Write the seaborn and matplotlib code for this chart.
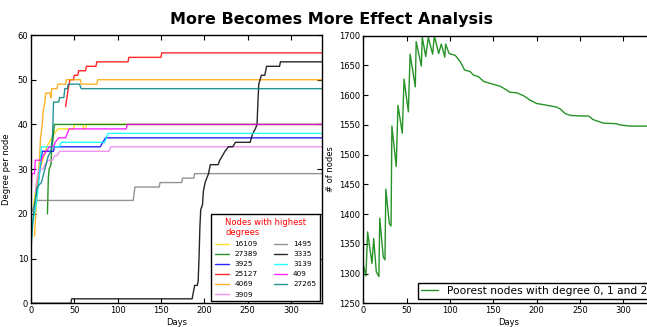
import matplotlib
matplotlib.use("Agg")
import matplotlib.pyplot as plt
import seaborn as sns
import pandas as pd

sns.set_theme(style="ticks")
plt.rcParams["font.family"] = ["DejaVu Sans"]
plt.rcParams["text.color"] = "black"
plt.rcParams["axes.labelcolor"] = "black"

# ---- Left panel: degree of the highest-degree nodes over time ----
node_names = ["16109", "27389", "3925", "25127", "4069", "3909",
              "1495", "3335", "3139", "409", "27265"]
node_colors = ["gold", "green", "blue", "red", "orange", "violet",
               "gray", "black", "cyan", "magenta", "teal"]

days_16109 = [3, 6, 9, 12, 15, 18, 21, 24, 27, 31, 49, 50, 60, 61, 63, 64, 336]
deg_16109 = [22, 26, 29, 31, 33, 35, 36, 37, 38, 39, 39, 40, 40, 39, 39, 40, 40]

days_27389 = [19, 20, 21, 23, 24, 25, 26, 27, 336]
deg_27389 = [20, 28, 30, 31, 35, 36, 38, 40, 40]

days_3925 = [6, 9, 11, 13, 26, 27, 80, 83, 86, 336]
deg_3925 = [24, 28, 31, 34, 34, 35, 35, 36, 37, 37]

days_25127 = [40, 43, 45, 49, 50, 54, 55, 63, 64, 75, 76, 112, 113, 150, 151, 336]
deg_25127 = [44, 48, 50, 50, 51, 51, 52, 52, 53, 53, 54, 54, 55, 55, 56, 56]

days_4069 = [4, 6, 8, 10, 11, 13, 14, 16, 17, 22, 23, 24, 30, 31, 40, 41,
             57, 58, 76, 77, 336]
deg_4069 = [15, 22, 27, 33, 37, 40, 43, 45, 47, 47, 46, 48, 48, 49, 49, 50,
            50, 49, 49, 50, 50]

days_3909 = [5, 7, 9, 14, 16, 20, 25, 27, 30, 33, 90, 92, 336]
deg_3909 = [25, 28, 30, 30, 31, 32, 32, 33, 33, 34, 34, 35, 35]

days_1495 = [0, 2, 4, 6, 118, 120, 148, 149, 174, 175, 188, 189, 336]
deg_1495 = [20, 21, 22, 23, 23, 26, 26, 27, 27, 28, 28, 29, 29]

days_3335 = [0, 46, 47, 186, 188, 189, 192, 193, 194, 195, 196, 198, 199, 201,
             203, 205, 207, 216, 218, 221, 224, 228, 233, 236, 253, 256, 259,
             261, 262, 263, 266, 270, 272, 287, 288, 336]
deg_3335 = [0, 0, 1, 1, 3, 4, 4, 5, 10, 17, 21, 22, 25, 27,
            28, 29, 31, 31, 32, 33, 34, 35, 35, 36, 36, 38, 39,
            40, 45, 49, 51, 51, 53, 53, 54, 54]

days_3139 = [0, 2, 4, 6, 9, 11, 12, 33, 35, 85, 87, 89, 336]
deg_3139 = [13, 18, 20, 22, 27, 32, 35, 35, 36, 36, 37, 38, 38]

days_409 = [0, 1, 4, 5, 12, 14, 18, 21, 26, 28, 32, 40, 42, 44, 110, 111, 336]
deg_409 = [23, 29, 29, 32, 32, 33, 34, 35, 35, 36, 37, 37, 38, 39, 39, 40, 40]

days_27265 = [0, 2, 4, 7, 12, 16, 20, 23, 25, 26, 32, 33, 38, 39, 42, 43,
              56, 58, 336]
deg_27265 = [12, 18, 22, 26, 27, 30, 33, 34, 38, 45, 45, 46, 46, 48, 48, 49,
             49, 48, 48]

node_days = [days_16109, days_27389, days_3925, days_25127, days_4069,
             days_3909, days_1495, days_3335, days_3139, days_409, days_27265]
node_degs = [deg_16109, deg_27389, deg_3925, deg_25127, deg_4069,
             deg_3909, deg_1495, deg_3335, deg_3139, deg_409, deg_27265]

# ---- Right panel: number of poorest nodes (degree 0, 1, 2) ----
poor_days = [0, 3, 5, 10, 12, 15, 18, 19, 23, 25, 26, 30, 32, 33, 38, 40, 45,
             47, 52, 54, 60, 61, 67, 68, 72, 75, 80, 82, 87, 90, 92, 94, 95,
             99, 106, 112, 117, 123, 127, 133, 139, 146, 158, 165, 169, 177,
             185, 192, 200, 212, 223, 227, 233, 239, 250, 260, 265, 271, 277,
             292, 296, 308, 336]
poor_nodes = [1314, 1296, 1370, 1317, 1359, 1303, 1295, 1393, 1328, 1323,
              1442, 1384, 1380, 1548, 1480, 1583, 1536, 1627, 1572, 1669,
              1614, 1690, 1649, 1698, 1665, 1697, 1669, 1700, 1670, 1686,
              1675, 1664, 1686, 1670, 1667, 1656, 1642, 1640, 1634, 1631,
              1623, 1620, 1615, 1609, 1605, 1604, 1599, 1592, 1586, 1583,
              1580, 1577, 1569, 1566, 1565, 1565, 1559, 1556, 1553, 1552,
              1550, 1548, 1548]

W, H = 647, 327
fig = plt.figure(figsize=(W / 100, H / 100), dpi=100)
fig.patch.set_facecolor("white")

ax1 = fig.add_axes([31 / W, 1 - 303.3 / H, 291 / W, 268.3 / H])
ax2 = fig.add_axes([363.3 / W, 1 - 303.3 / H, 291.2 / W, 267.6 / H])

for name, color, d, v in zip(node_names, node_colors, node_days, node_degs):
    df = pd.DataFrame({"Days": d, "Degree": v})
    sns.lineplot(data=df, x="Days", y="Degree", ax=ax1, color=color,
                 label=name, estimator=None, sort=False, linewidth=1.0,
                 alpha=0.85)

poor_df = pd.DataFrame({"Days": poor_days, "Nodes": poor_nodes})
sns.lineplot(data=poor_df, x="Days", y="Nodes", ax=ax2, color="green",
             label="Poorest nodes with degree 0, 1 and 2", estimator=None,
             sort=False, linewidth=1.0, alpha=0.85)

for ax in (ax1, ax2):
    ax.set_xlim(0, 336)
    ax.set_xticks([0, 50, 100, 150, 200, 250, 300])
    ax.tick_params(direction="in", top=True, right=True, length=3.5,
                   width=0.8, labelsize=6, pad=2, colors="black")
    for sp in ax.spines.values():
        sp.set_color("black")
        sp.set_linewidth(1.0)
    ax.set_xlabel("Days", fontsize=6, labelpad=2, color="black")
    ax.set_facecolor("white")

ax1.set_ylim(0, 60)
ax1.set_yticks(range(0, 61, 10))
ax1.set_ylabel("Degree per node", fontsize=6, labelpad=5, color="black")

ax2.set_ylim(1250, 1700)
ax2.set_yticks(range(1250, 1701, 50))
ax2.set_ylabel("# of nodes", fontsize=6, labelpad=3, color="black")

leg1 = ax1.legend(loc="lower right", ncol=2, fontsize=5.2,
                  title="Nodes with highest\ndegrees",
                  title_fontproperties={"size": 6},
                  fancybox=False, framealpha=1, edgecolor="black",
                  borderaxespad=0.3, handlelength=1.9, labelspacing=0.55,
                  columnspacing=2.2, borderpad=0.5)
leg1.get_title().set_color("red")
leg1.get_title().set_multialignment("left")
leg1.get_frame().set_linewidth(1.0)
for t in leg1.get_texts():
    t.set_color("black")

leg2 = ax2.legend(loc="lower right", fontsize=7.7, fancybox=False,
                  framealpha=1, edgecolor="black", handlelength=1.6,
                  borderaxespad=0.4, borderpad=0.3)
leg2.get_frame().set_linewidth(1.0)
for t in leg2.get_texts():
    t.set_color("black")

fig.suptitle("More Becomes More Effect Analysis", x=0.512, y=0.962,
             fontsize=11.5, fontweight="bold", color="black")

fig.savefig("out.png", dpi=100)
